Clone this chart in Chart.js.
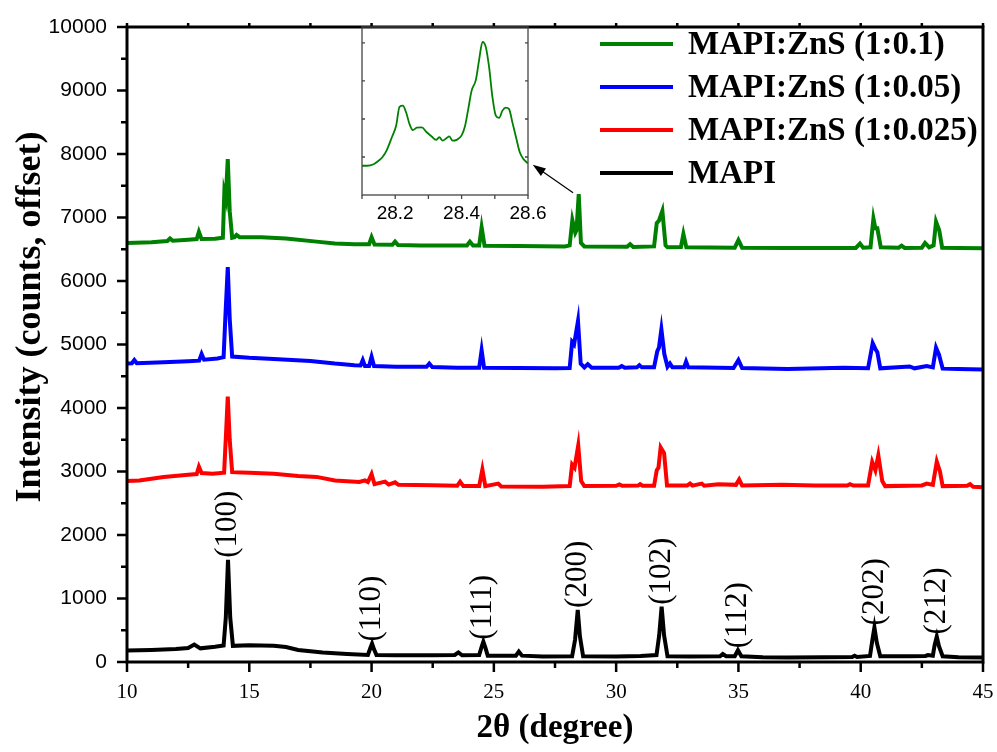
<!DOCTYPE html>
<html>
<head>
<meta charset="utf-8">
<script src="https://cdn.jsdelivr.net/npm/chart.js@4.4.0/dist/chart.umd.min.js"></script>
<style>
  html, body { margin: 0; padding: 0; background: #fff; }
  #wrap { position: relative; width: 997px; height: 752px; }
  #main { position: absolute; left: 0; top: 0; }
  #inset { position: absolute; left: 340px; top: 20px; }
</style>
</head>
<body>
<div id="wrap">
  <canvas id="main" width="997" height="752"></canvas>
  <canvas id="inset" width="220" height="215"></canvas>
</div>
<script>
// 2theta / counts pairs (offset already included)
const zns010 = [[10,6600],[11,6610],[11.65,6630],[11.76,6670],[11.87,6635],[12.5,6650],[12.85,6660],[12.94,6775],[13.05,6660],
  [13.6,6665],[13.92,6680],[13.98,7400],[14.04,7300],[14.12,7920],[14.2,7100],[14.3,6680],[14.4,6690],[14.48,6725],[14.6,6690],
  [15.5,6690],[16.5,6670],[17.75,6620],[18.5,6590],[19.3,6580],[19.9,6580],[20.0,6690],[20.12,6575],[20.85,6570],[20.96,6620],
  [21.08,6565],[22,6560],[23.9,6560],[24.02,6620],[24.15,6560],[24.4,6560],[24.5,6845],[24.62,6555],[26,6550],[27.9,6545],
  [28.1,6560],[28.21,6960],[28.33,6760],[28.38,6800],[28.47,7370],[28.56,6600],[28.7,6545],[30.45,6540],[30.57,6580],[30.7,6535],
  [31.55,6545],[31.66,6910],[31.75,6950],[31.89,7105],[32.02,6560],[32.1,6530],[32.65,6535],[32.75,6740],[32.87,6530],[34.85,6525],
  [35.0,6645],[35.15,6525],[37,6520],[39.8,6520],[39.97,6590],[40.1,6525],[40.4,6530],[40.52,6985],[40.6,6830],[40.68,6830],
  [40.82,6530],[41.55,6525],[41.67,6555],[41.8,6520],[42.5,6525],[42.63,6600],[42.8,6530],[42.98,6560],[43.08,6935],[43.21,6800],
  [43.33,6525],[44,6520],[45,6515]];

const zns005 = [[10,4700],[10.2,4705],[10.3,4755],[10.4,4705],[11.5,4720],[12.5,4735],[12.95,4745],[13.05,4850],[13.15,4760],
  [13.7,4780],[13.95,4800],[14.03,5500],[14.12,6220],[14.2,5400],[14.3,4810],[15,4790],[16,4770],[17.5,4740],[18.5,4700],
  [19.3,4675],[19.55,4670],[19.64,4755],[19.73,4660],[19.9,4660],[20.0,4805],[20.1,4660],[21,4650],[22.25,4650],[22.36,4700],
  [22.48,4645],[23.5,4635],[24.4,4635],[24.5,4910],[24.6,4635],[26,4630],[27.5,4625],[28.1,4630],[28.2,5040],[28.28,5000],
  [28.44,5370],[28.55,4700],[28.7,4640],[28.84,4690],[29,4635],[30.1,4635],[30.23,4660],[30.35,4635],[30.85,4640],[30.95,4675],
  [31.05,4640],[31.55,4640],[31.68,4890],[31.75,4950],[31.85,5240],[31.97,4850],[32.1,4650],[32.2,4700],[32.3,4640],[32.78,4640],
  [32.86,4730],[32.95,4640],[34.8,4630],[35.0,4755],[35.15,4630],[37,4615],[39.3,4635],[40.3,4625],[40.49,5020],[40.6,4930],
  [40.68,4880],[40.8,4625],[42,4655],[42.2,4625],[42.7,4660],[42.95,4640],[43.08,4950],[43.2,4840],[43.35,4620],[44,4615],[45,4605]];

const zns0025 = [[10,2850],[10.5,2860],[11.5,2915],[12.5,2950],[12.85,2960],[12.94,3075],[13.05,2975],[13.5,2965],[13.97,2980],
  [14.05,3600],[14.12,4180],[14.2,3500],[14.3,2990],[15,2980],[16,2965],[17,2930],[17.75,2915],[18.5,2860],[19.5,2835],
  [19.73,2860],[19.85,2835],[20.0,2960],[20.12,2800],[20.55,2840],[20.7,2795],[20.96,2830],[21.1,2790],[22.5,2785],[23.5,2775],
  [23.62,2840],[23.75,2770],[24.4,2770],[24.53,3030],[24.65,2770],[25.18,2810],[25.3,2765],[27,2760],[28.1,2770],[28.2,3110],
  [28.3,3060],[28.45,3410],[28.57,2850],[28.7,2770],[30.0,2775],[30.13,2795],[30.25,2775],[30.9,2778],[30.98,2800],[31.08,2776],
  [31.55,2775],[31.66,3020],[31.73,3060],[31.82,3380],[31.96,3290],[32.08,2780],[32.9,2778],[33.02,2810],[33.12,2778],[33.5,2810],
  [33.6,2776],[34.18,2800],[34.9,2790],[35.03,2875],[35.15,2780],[36.77,2790],[38.13,2780],[39.45,2780],[39.56,2800],[39.7,2778],
  [40.3,2780],[40.47,3150],[40.6,3020],[40.72,3255],[40.88,2850],[41,2770],[42.5,2780],[42.7,2810],[42.95,2790],[43.11,3155],
  [43.24,3000],[43.35,2770],[44.35,2775],[44.47,2800],[44.6,2760],[45,2750]];

const mapi = [[10,180],[11,190],[12,205],[12.5,220],[12.75,275],[13,215],[13.6,240],[13.95,260],[14.04,700],[14.13,1610],
  [14.22,700],[14.33,255],[15,265],[16,255],[16.5,235],[17,190],[18,150],[19,125],[19.85,110],[19.95,220],[20.02,290],[20.1,200],
  [20.2,110],[21,105],[22.5,105],[23.4,110],[23.55,150],[23.7,105],[24.4,110],[24.5,240],[24.57,320],[24.65,230],[24.75,100],
  [25.9,100],[26.02,165],[26.15,100],[27,85],[28.2,90],[28.32,350],[28.43,820],[28.52,400],[28.65,90],[30,85],[31,95],[31.65,110],
  [31.76,420],[31.86,870],[31.96,420],[32.1,90],[33,85],[34.25,90],[34.36,125],[34.5,90],[34.85,90],[34.98,185],[35.12,90],[36,75],
  [37,70],[38.5,75],[39.65,80],[39.75,100],[39.85,80],[40.38,95],[40.47,330],[40.56,545],[40.66,300],[40.8,90],[42,90],[42.65,95],
  [42.75,110],[42.95,100],[43.02,260],[43.11,400],[43.2,250],[43.35,90],[44,75],[45,70]];

// inset: MAPI:ZnS (1:0.1) around the (200) peak, arbitrary units
const insetZns010 = [[28.100,0.77],[28.115,0.77],[28.135,0.81],[28.145,0.87],[28.162,1.0],[28.175,1.19],[28.19,1.52],
  [28.203,1.83],[28.213,2.32],[28.223,2.35],[28.233,2.17],[28.243,1.87],[28.253,1.71],[28.265,1.77],[28.28,1.78],[28.295,1.65],
  [28.31,1.54],[28.323,1.45],[28.333,1.52],[28.343,1.43],[28.355,1.50],[28.363,1.54],[28.373,1.43],[28.385,1.45],[28.40,1.57],
  [28.41,1.80],[28.42,2.26],[28.43,2.74],[28.443,3.03],[28.453,3.57],[28.463,4.03],[28.473,3.89],[28.483,3.35],[28.493,2.57],
  [28.503,2.09],[28.513,2.03],[28.523,2.22],[28.533,2.30],[28.543,2.26],[28.553,1.91],[28.565,1.48],[28.575,1.13],[28.585,0.96],
  [28.60,0.83]];

const seriesLabels = ['MAPI:ZnS (1:0.1)', 'MAPI:ZnS (1:0.05)', 'MAPI:ZnS (1:0.025)', 'MAPI'];
const seriesColors = ['#008000', '#0000ff', '#ff0000', '#000000'];
const hklLabels = ['(100)', '(110)', '(111)', '(200)', '(102)', '(112)', '(202)', '(212)'];
const hklAt = [14.13, 20.02, 24.57, 28.43, 31.86, 34.98, 40.56, 43.11];
const arrowFrom = [28.24, 7390];
const arrowTo = [26.59, 7830];

const toPts = arr => arr.map(p => ({x: p[0], y: p[1]}));

// frame + Origin-style tick marks
const framePlugin = {
  id: 'frame',
  afterDatasetsDraw(chart) {
    const {ctx, chartArea: a, scales: {x, y}} = chart;
    ctx.save();
    ctx.strokeStyle = '#000';
    ctx.lineWidth = 3;
    ctx.strokeRect(a.left, a.top, a.right - a.left, a.bottom - a.top);
    ctx.lineWidth = 2.5;
    ctx.beginPath();
    for (let v = 0; v <= 10000; v += 500) {
      const py = y.getPixelForValue(v);
      const len = v % 1000 === 0 ? 10 : 6;
      ctx.moveTo(a.left, py); ctx.lineTo(a.left - len, py);
    }
    for (let v = 10; v <= 45; v += 2.5) {
      const px = x.getPixelForValue(v);
      const len = v % 5 === 0 ? 10 : 6;
      ctx.moveTo(px, a.bottom); ctx.lineTo(px, a.bottom + len);
      ctx.moveTo(px, a.top); ctx.lineTo(px, a.top - 4);
    }
    ctx.stroke();
    ctx.restore();
  }
};

// Miller indices above MAPI peaks
const hklPlugin = {
  id: 'hkl',
  afterDatasetsDraw(chart) {
    const {ctx, scales: {x, y}} = chart;
    const pts = chart.data.datasets[3].data;
    ctx.save();
    ctx.fillStyle = '#000';
    ctx.font = '31px "Liberation Serif"';
    ctx.textAlign = 'left';
    ctx.textBaseline = 'middle';
    hklLabels.forEach((t, i) => {
      let top = 0;
      pts.forEach(p => { if (Math.abs(p.x - hklAt[i]) < 0.2 && p.y > top) top = p.y; });
      ctx.save();
      ctx.translate(x.getPixelForValue(hklAt[i]), y.getPixelForValue(top) - 2);
      ctx.rotate(-Math.PI / 2);
      ctx.fillText(t, 0, 0);
      ctx.restore();
    });
    ctx.restore();
  }
};

const legendPlugin = {
  id: 'customLegend',
  afterDraw(chart) {
    const {ctx} = chart;
    ctx.save();
    ctx.font = 'bold 33px "Liberation Serif"';
    ctx.textBaseline = 'middle';
    ctx.fillStyle = '#000';
    chart.data.datasets.forEach((ds, i) => {
      const ly = 44 + i * 43;
      ctx.strokeStyle = ds.borderColor;
      ctx.lineWidth = 4;
      ctx.beginPath(); ctx.moveTo(600, ly); ctx.lineTo(673, ly); ctx.stroke();
      ctx.fillText(ds.label, 688, ly + 1);
    });
    // y axis title
    ctx.font = 'bold 36px "Liberation Serif"';
    ctx.textAlign = 'center';
    ctx.textBaseline = 'alphabetic';
    ctx.translate(40, 317);
    ctx.rotate(-Math.PI / 2);
    ctx.fillText('Intensity (counts, offset)', 0, 0);
    ctx.restore();
  }
};

const arrowPlugin = {
  id: 'arrow',
  afterDraw(chart) {
    const {ctx, scales: {x, y}} = chart;
    const x1 = x.getPixelForValue(arrowFrom[0]), y1 = y.getPixelForValue(arrowFrom[1]);
    const x2 = x.getPixelForValue(arrowTo[0]), y2 = y.getPixelForValue(arrowTo[1]);
    const ang = Math.atan2(y2 - y1, x2 - x1);
    ctx.save();
    ctx.strokeStyle = '#000';
    ctx.fillStyle = '#000';
    ctx.lineWidth = 1.2;
    ctx.beginPath(); ctx.moveTo(x1, y1); ctx.lineTo(x2 - 8 * Math.cos(ang), y2 - 8 * Math.sin(ang)); ctx.stroke();
    ctx.beginPath();
    ctx.moveTo(x2, y2);
    ctx.lineTo(x2 - 13 * Math.cos(ang) + 4.5 * Math.sin(ang), y2 - 13 * Math.sin(ang) - 4.5 * Math.cos(ang));
    ctx.lineTo(x2 - 13 * Math.cos(ang) - 4.5 * Math.sin(ang), y2 - 13 * Math.sin(ang) + 4.5 * Math.cos(ang));
    ctx.closePath(); ctx.fill();
    ctx.restore();
  }
};

new Chart(document.getElementById('main'), {
  type: 'line',
  data: {
    datasets: [zns010, zns005, zns0025, mapi].map((d, i) => ({
      label: seriesLabels[i],
      data: toPts(d),
      borderColor: seriesColors[i],
      borderWidth: 4,
      pointRadius: 0,
      tension: 0
    }))
  },
  options: {
    responsive: false,
    animation: false,
    layout: {padding: {left: 0, right: 14, top: 27, bottom: 0}},
    plugins: {legend: {display: false}, tooltip: {enabled: false}},
    scales: {
      x: {
        type: 'linear', min: 10, max: 45,
        afterFit(s) { s.height = 90; s.paddingLeft = 0; s.paddingRight = 0; },
        grid: {display: false, drawTicks: false},
        border: {display: false},
        ticks: {stepSize: 5, autoSkip: false, maxRotation: 0, padding: 18, color: '#000',
          font: {family: 'Liberation Serif', size: 21}},
        title: {display: true, text: '2θ (degree)', color: '#000', padding: {top: 0, bottom: 4},
          font: {family: 'Liberation Serif', size: 33, weight: 'bold'}}
      },
      y: {
        min: 0, max: 10000,
        afterFit(s) { s.width = 127; s.paddingTop = 0; s.paddingBottom = 0; },
        grid: {display: false, drawTicks: false},
        border: {display: false},
        ticks: {stepSize: 1000, padding: 20, color: '#000', font: {family: 'Liberation Sans', size: 21},
          callback: v => String(v)}
      }
    }
  },
  plugins: [framePlugin, hklPlugin, legendPlugin, arrowPlugin]
});

const insetFrame = {
  id: 'insetFrame',
  afterDatasetsDraw(chart) {
    const {ctx, chartArea: a, scales: {x, y}} = chart;
    ctx.save();
    ctx.strokeStyle = '#444';
    ctx.lineWidth = 1.3;
    ctx.strokeRect(a.left, a.top, a.right - a.left, a.bottom - a.top);
    ctx.beginPath();
    for (let v = 1; v <= 4; v++) {
      const py = y.getPixelForValue(v);
      ctx.moveTo(a.left, py); ctx.lineTo(a.left + 3, py);
      ctx.moveTo(a.right, py); ctx.lineTo(a.right - 3, py);
    }
    for (let k = 1; k <= 6; k++) {
      const px = x.getPixelForValue(28 + k / 10);
      ctx.moveTo(px, a.bottom); ctx.lineTo(px, a.bottom + 4);
    }
    ctx.stroke();
    ctx.restore();
  }
};

new Chart(document.getElementById('inset'), {
  type: 'line',
  data: {
    datasets: [{
      data: toPts(insetZns010),
      borderColor: '#008000',
      borderWidth: 1.8,
      pointRadius: 0,
      cubicInterpolationMode: 'monotone'
    }]
  },
  options: {
    responsive: false,
    animation: false,
    layout: {padding: {left: 0, right: 32, top: 7, bottom: 0}},
    plugins: {legend: {display: false}, tooltip: {enabled: false}},
    scales: {
      x: {
        type: 'linear', min: 28.1, max: 28.6,
        afterFit(s) { s.height = 40; s.paddingLeft = 0; s.paddingRight = 0; },
        grid: {display: false, drawTicks: false},
        border: {display: false},
        ticks: {stepSize: 0.1, autoSkip: false, maxRotation: 0, padding: 7, color: '#000',
          font: {family: 'Liberation Sans', size: 19},
          callback: v => (Math.round(v * 10) % 2 === 0 && v > 28.15) ? v.toFixed(1) : ''}
      },
      y: {
        min: 0, max: 4.42,
        afterFit(s) { s.width = 22; s.paddingTop = 0; s.paddingBottom = 0; },
        grid: {display: false, drawTicks: false},
        border: {display: false},
        ticks: {display: false}
      }
    }
  },
  plugins: [insetFrame]
});
</script>
</body>
</html>
